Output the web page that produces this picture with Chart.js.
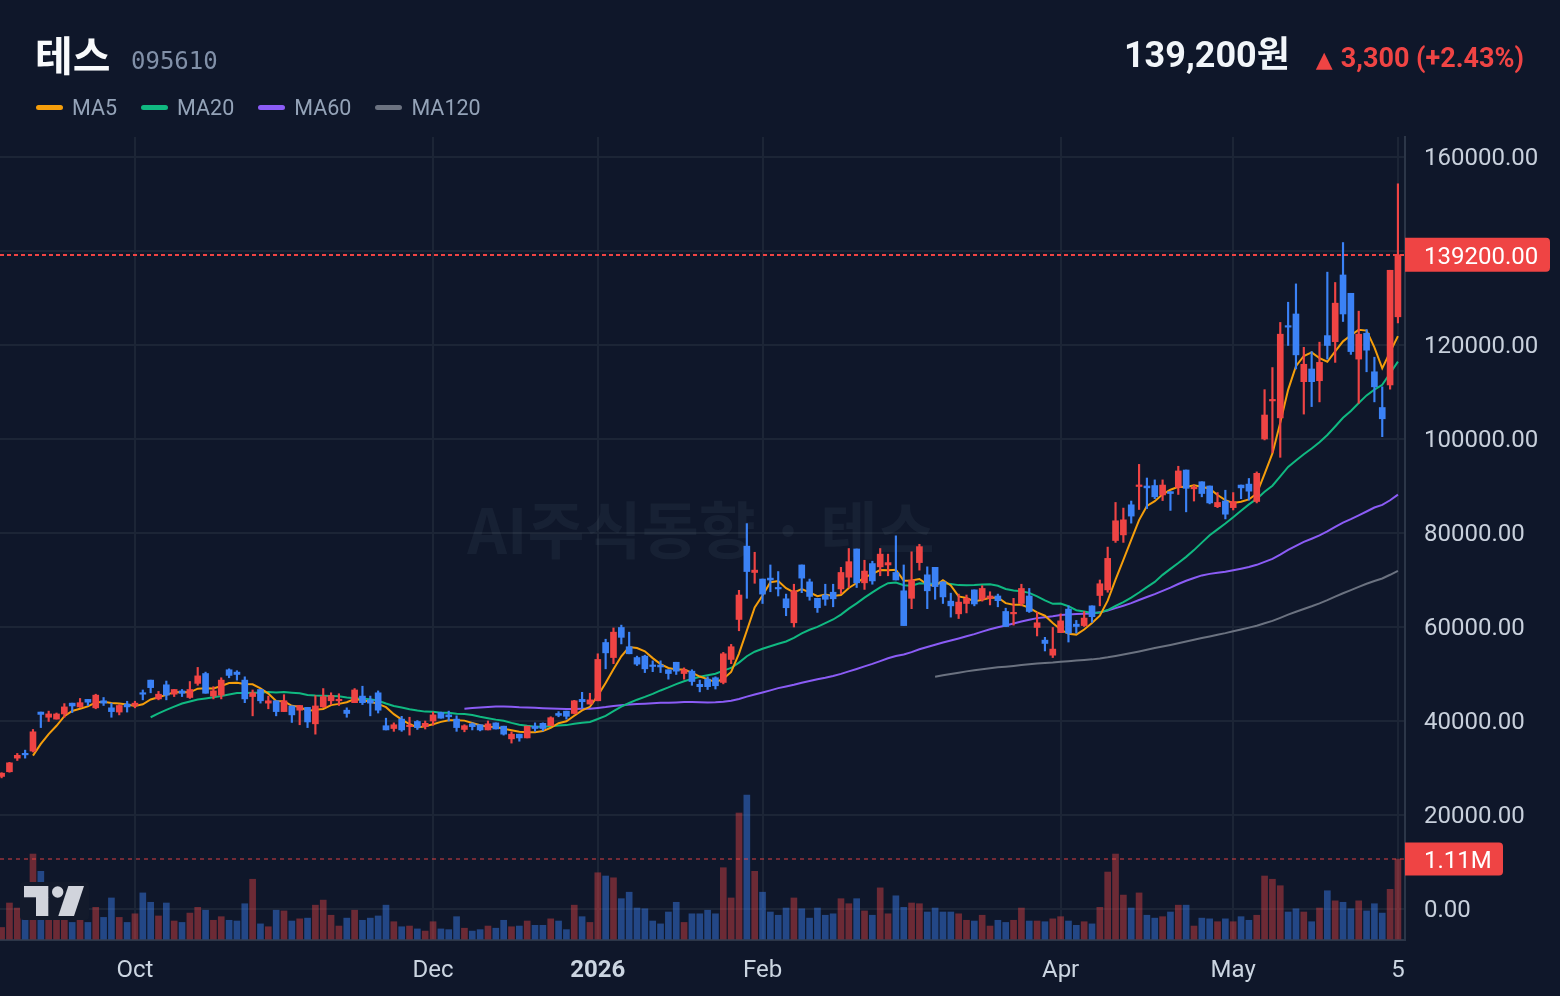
<!DOCTYPE html>
<html><head><meta charset="utf-8">
<script src="https://cdn.jsdelivr.net/npm/chart.js@4.4.1/dist/chart.umd.min.js"></script>
<style>
html,body{margin:0;padding:0;background:#0f172a;width:1560px;height:996px;overflow:hidden;}
#wrap{position:relative;width:1560px;height:996px;}
#c{position:absolute;left:0;top:0;}
.title{position:absolute;left:35px;top:33px;font:700 41px 'Noto Sans CJK KR',sans-serif;color:#f8fafc;line-height:1;}
.code{position:absolute;left:131px;top:49px;font:400 24px 'DejaVu Sans Mono',monospace;color:#8190a8;line-height:1;}
.right{position:absolute;right:36px;top:25px;display:flex;align-items:baseline;line-height:1;}
.price{font:700 36px Roboto,'Noto Sans CJK KR',sans-serif;color:#f1f5f9;}
.chg{font:700 27px Roboto,sans-serif;color:#ef4444;margin-left:26px;}
.tri{font:400 22px 'DejaVu Sans',sans-serif;margin-right:8px;}
.legend{position:absolute;left:36px;top:97px;display:flex;align-items:center;font:400 21.5px Roboto,sans-serif;color:#94a3b8;line-height:1;}
.legend span.sw{display:inline-block;width:27px;height:5px;border-radius:3px;margin-right:9px;}
.legend .it{display:flex;align-items:center;margin-right:24px;}
</style></head>
<body><div id="wrap">
<canvas id="c" width="1560" height="996"></canvas>
<div class="title">테스</div>
<div class="code">095610</div>
<div class="right"><span class="price">139,200원</span><span class="chg"><span class="tri">▲</span>3,300 (+2.43%)</span></div>
<div class="legend">
<div class="it"><span class="sw" style="background:#f59e0b"></span>MA5</div>
<div class="it"><span class="sw" style="background:#10b981"></span>MA20</div>
<div class="it"><span class="sw" style="background:#8b5cf6"></span>MA60</div>
<div class="it"><span class="sw" style="background:#6b7280"></span>MA120</div>
</div>
</div>
<script>
const opens=[28200,29200,32100,33100,33600,41900,40800,40400,41500,43800,43000,44600,42800,44300,42800,41900,43600,43300,46000,48700,44700,47700,45700,46400,45000,48000,50100,45300,45500,50900,50400,48700,45200,46700,43800,44300,42000,43200,42300,42900,39400,43000,44300,44300,42300,43900,45300,44500,46000,39000,38400,40400,38800,39900,38800,40000,41800,41300,40400,38200,39400,39200,38100,39600,38900,36200,37200,36400,38900,39500,39000,41600,42100,41600,44600,43600,44300,56700,53500,59900,55800,53500,53800,51900,51900,50900,52500,50100,50600,47800,48900,49200,48200,53100,61600,77200,71600,70200,70400,68400,66000,60900,73200,69600,66100,66800,67400,68100,70600,76600,69400,73500,72800,73200,71600,67700,66100,73700,71100,72700,69600,65500,62800,65000,67900,65900,66100,66600,63300,62800,65000,66600,59900,57200,54000,58800,63800,60600,60300,64500,66700,67900,78400,79600,86000,89900,90000,90100,88100,88800,89700,93400,89400,90900,90000,85600,86800,85400,90200,90400,86700,100000,108100,104500,124100,126600,112200,114900,112400,122000,120700,134900,131000,117000,122500,114300,106700,111500,126000];
const highs=[29000,31200,33100,33800,38200,41900,42100,41700,43700,43800,44800,44600,45700,45000,43800,43500,44200,44200,46600,48700,46300,48500,46700,46700,48400,51400,50400,47300,49200,51100,50700,49400,46600,46700,45300,44300,45600,43200,43300,42900,45400,46900,46000,45800,42800,46900,47400,45300,46400,40600,39600,41000,40800,40100,40000,41900,41900,42100,41100,39200,39600,39200,40000,39600,38900,37700,37200,38900,39600,39600,40900,42000,42100,44400,46100,45900,54300,57400,59800,60400,58900,53800,54000,52800,52800,50900,52500,51300,50900,48700,49400,49400,54600,56300,67800,82000,75900,70200,73200,71800,67000,69100,73200,70200,66100,69100,69100,72700,76700,76600,74200,74000,76700,75500,79400,73200,76000,77600,72800,72700,69600,67200,67000,66800,67900,68800,67500,67000,64000,66100,69100,68200,63100,57800,59900,62800,64500,61400,63300,64500,70000,77000,86500,85300,86800,94600,91700,91300,91300,88800,94200,93400,90200,90900,90000,88600,89100,88600,90200,91600,93000,110500,115200,124800,129100,133000,119500,118600,120600,135500,133300,141800,131000,127200,123300,117400,111100,135900,154300];
const lows=[27900,29100,31600,32100,33400,38600,39900,40400,40800,41800,42900,43300,42600,43300,40800,41300,41900,42800,44500,46000,44500,44500,45200,45200,44800,47600,45900,44700,44700,49200,48700,43900,41100,43800,42600,41100,42000,39700,39200,38600,37200,42900,43500,43300,40800,43900,43500,41100,41700,38100,37800,37800,37000,38200,38300,39100,40600,40000,37800,37700,38100,37900,38100,38300,37000,35300,35700,36400,37800,37900,39000,40900,40400,41500,42700,43600,44300,51100,52200,56400,54300,51800,50300,50500,50300,48900,49900,48900,47600,46200,46700,46800,47900,52200,59200,66100,69300,65000,67500,66600,62400,60000,67300,65700,63100,64600,64300,67100,68400,68400,68000,69100,70900,70900,70000,60300,63900,72100,63900,65900,65000,62100,61800,63000,64500,65500,64700,64300,60100,60400,64500,63100,58100,54900,53500,58800,56800,58700,60100,61000,64500,67400,78000,78000,82100,85000,85200,87300,86900,84800,88200,84500,86800,87700,86200,85400,83000,84900,87300,87000,86400,99800,97100,96100,119900,114900,105300,106900,107900,117000,116300,125000,118000,107600,114300,107900,100500,110600,124700];
const closes=[28900,31100,32700,32800,37700,41400,41500,41500,43000,43200,43900,44000,45500,43800,42000,43300,43000,43800,45700,47100,45700,45500,46700,45900,46700,49600,45900,46400,48700,49700,49900,44700,46000,44300,44300,42000,44300,41300,43300,39800,43200,45200,45400,44600,41600,46600,43900,43800,42300,38100,39200,38100,39100,38600,39500,41300,40600,40900,38600,39000,38800,38100,39400,38300,37200,37200,36400,38900,38400,38400,40700,41200,41000,44300,44100,44500,53100,54500,58900,57800,54300,52100,51100,51600,51500,50100,50600,50900,48400,47300,47300,47500,54300,55800,66800,71800,72100,67000,70000,68100,64100,67700,70400,66500,64100,65900,66000,71600,73900,69400,71900,69800,75500,73700,70000,60300,70000,77100,67700,68600,66400,64500,65300,66100,64900,68200,66600,65600,60100,63100,68200,63300,60900,56500,55300,61300,58700,60100,61900,62200,69200,74600,82600,82800,83600,90100,89600,87700,90200,88400,93200,89500,89600,88400,86400,86500,84000,86700,89600,88900,92700,105100,108400,122300,123800,117900,115900,112200,116300,119900,128900,126600,118600,122300,118900,111100,104300,135900,139200];
const volumes=[0.16,0.50,0.43,0.51,1.18,0.94,0.28,0.28,0.28,0.23,0.30,0.23,0.44,0.30,0.57,0.30,0.23,0.35,0.64,0.51,0.32,0.50,0.25,0.23,0.36,0.44,0.40,0.26,0.31,0.26,0.25,0.49,0.83,0.21,0.17,0.40,0.39,0.25,0.28,0.29,0.47,0.54,0.33,0.18,0.29,0.40,0.26,0.29,0.32,0.47,0.24,0.17,0.18,0.14,0.11,0.24,0.14,0.13,0.31,0.15,0.11,0.13,0.18,0.15,0.26,0.17,0.18,0.25,0.19,0.19,0.28,0.25,0.13,0.47,0.31,0.23,0.92,0.875,0.85,0.56,0.65,0.43,0.42,0.25,0.21,0.375,0.51,0.23,0.35,0.35,0.40,0.35,0.99,0.57,1.75,2.0,0.94,0.65,0.375,0.33,0.43,0.57,0.42,0.29,0.43,0.33,0.35,0.56,0.49,0.56,0.39,0.33,0.71,0.35,0.60,0.44,0.50,0.49,0.375,0.43,0.375,0.375,0.35,0.26,0.25,0.33,0.18,0.26,0.23,0.26,0.43,0.25,0.25,0.24,0.28,0.31,0.25,0.19,0.24,0.21,0.44,0.93,1.18,0.61,0.43,0.64,0.33,0.29,0.31,0.375,0.47,0.47,0.18,0.29,0.28,0.24,0.28,0.24,0.31,0.26,0.33,0.875,0.83,0.74,0.375,0.42,0.375,0.24,0.43,0.67,0.53,0.51,0.42,0.53,0.39,0.49,0.36,0.69,1.11].map(v=>v*1e6);
const tickIdx=[17,55,76,97,135,157,178];
const tickLabels=['Oct','Dec','2026','Feb','Apr','May','5'];
const priceTicks=[0,20000,40000,60000,80000,100000,120000,140000,160000];
const maPeriods=[5,20,60,120];
const maColors=['#f59e0b','#10b981','#8b5cf6','#6b7280'];

const UP='#ef4444', DOWN='#3b82f6';
const UPV='rgba(239,68,68,0.42)', DOWNV='rgba(59,130,246,0.45)';
const GRID='#1c2536', AXIS='#2c3648';
const FONT="Roboto, 'Noto Sans CJK KR', sans-serif";
const isUp=i=>closes[i]>=opens[i];
function movingAvg(n){return closes.map((c,i)=>{if(i<n-1)return {x:i,y:null};let s=0;for(let k=i-n+1;k<=i;k++)s+=closes[k];return {x:i,y:s/n};});}
const last=closes.length-1;

const overlay={id:'overlay',
 beforeDatasetsDraw(chart){const {ctx,chartArea:a}=chart;ctx.save();
  ctx.font="700 62px 'Noto Sans CJK KR', sans-serif";ctx.fillStyle='rgba(148,163,184,0.07)';ctx.textAlign='center';ctx.textBaseline='middle';
  ctx.fillText('AI주식동향 · 테스',701,530);ctx.restore();},
 afterDatasetsDraw(chart){const {ctx,chartArea:a,scales}=chart;ctx.save();
  const py=Math.round(scales.y.getPixelForValue(closes[last]));
  ctx.strokeStyle=UP;ctx.lineWidth=2;ctx.setLineDash([4,3]);ctx.beginPath();ctx.moveTo(a.left,py);ctx.lineTo(a.right,py);ctx.stroke();
  const vy=Math.round(scales.vol.getPixelForValue(volumes[last]));
  ctx.strokeStyle='rgba(239,68,68,0.45)';ctx.lineWidth=2;ctx.setLineDash([4,4]);ctx.beginPath();ctx.moveTo(a.left,vy);ctx.lineTo(a.right,vy);ctx.stroke();
  ctx.setLineDash([]);
  ctx.fillStyle='#131a2b';ctx.beginPath();ctx.roundRect(20,882,69,38,4);ctx.fill();
  ctx.fillStyle='#d1d4dc';ctx.fillRect(24,886,24.3,11.3);ctx.fillRect(36,897,12.3,19);
  ctx.beginPath();ctx.arc(57.7,892,5.7,0,Math.PI*2);ctx.fill();
  ctx.beginPath();ctx.moveTo(68.3,886);ctx.lineTo(84,886);ctx.lineTo(74,916);ctx.lineTo(58.3,916);ctx.closePath();ctx.fill();
  ctx.restore();},
 afterDraw(chart){const {ctx,chartArea:a,scales}=chart;ctx.save();
  const py=scales.y.getPixelForValue(closes[last]);
  ctx.fillStyle=UP;ctx.beginPath();ctx.roundRect(a.right,py-17,145,34,[0,4,4,0]);ctx.fill();
  ctx.fillStyle='#ffffff';ctx.font='24px '+FONT;ctx.textBaseline='middle';ctx.textAlign='left';
  ctx.fillText(closes[last].toFixed(2),a.right+19,py+3);
  const vy=scales.vol.getPixelForValue(volumes[last]);
  ctx.fillStyle=UP;ctx.beginPath();ctx.roundRect(a.right,vy-16.5,98,33,[0,4,4,0]);ctx.fill();
  ctx.fillStyle='#ffffff';ctx.fillText((volumes[last]/1e6).toFixed(2)+'M',a.right+19,vy+3);
  ctx.restore();}
};

const datasets=[
 {type:'bar',label:'wick',data:closes.map((c,i)=>({x:i,y:[lows[i],highs[i]]})),backgroundColor:c=>isUp(c.dataIndex)?UP:DOWN,barThickness:1.5,grouped:false,order:0,yAxisID:'y',minBarLength:1},
 {type:'bar',label:'body',data:closes.map((c,i)=>({x:i,y:[opens[i],closes[i]]})),backgroundColor:c=>isUp(c.dataIndex)?UP:DOWN,barThickness:6,grouped:false,order:0,yAxisID:'y',minBarLength:1.5},
];
maPeriods.forEach((n,k)=>datasets.push({type:'line',label:'MA'+n,data:movingAvg(n),borderColor:maColors[k],borderWidth:2,pointRadius:0,tension:0,spanGaps:false,order:1,yAxisID:'y'}));
datasets.push({type:'bar',label:'vol',data:volumes.map((v,i)=>({x:i,y:v})),backgroundColor:c=>isUp(c.dataIndex)?UPV:DOWNV,barThickness:6,grouped:false,order:2,yAxisID:'vol'});

new Chart(document.getElementById('c'),{
 type:'bar',data:{datasets},
 options:{responsive:false,animation:false,devicePixelRatio:1,
  layout:{padding:{top:137,left:0,right:0,bottom:0}},
  plugins:{legend:{display:false},tooltip:{enabled:false}},
  scales:{
   x:{type:'linear',min:-0.204,max:178.9,offset:false,
    grid:{color:GRID,lineWidth:2,drawTicks:false,offset:false},border:{display:true,color:AXIS,width:2},
    afterBuildTicks:s=>{s.ticks=tickIdx.map(v=>({value:v}));},
    afterFit:s=>{s.height=56;},
    ticks:{autoSkip:false,maxRotation:0,padding:17,color:'#cbd5e1',
     font:c=>({family:FONT,size:24,weight:(c.tick&&c.tick.value===76)?'bold':'normal'}),
     callback:v=>tickLabels[tickIdx.indexOf(v)]}},
   y:{type:'linear',position:'right',min:-6596,max:164255,
    grid:{color:GRID,lineWidth:2,drawTicks:false},border:{display:true,color:AXIS,width:2},
    afterBuildTicks:s=>{s.ticks=priceTicks.map(v=>({value:v}));},
    afterFit:s=>{s.width=155;},
    ticks:{padding:19,labelOffset:2,color:'#c8d0dc',font:{family:FONT,size:24},callback:v=>Number(v).toFixed(2)}},
   vol:{type:'linear',display:false,min:-13889,max:11138889}
  }},
 plugins:[overlay]
});
</script>
</body></html>
